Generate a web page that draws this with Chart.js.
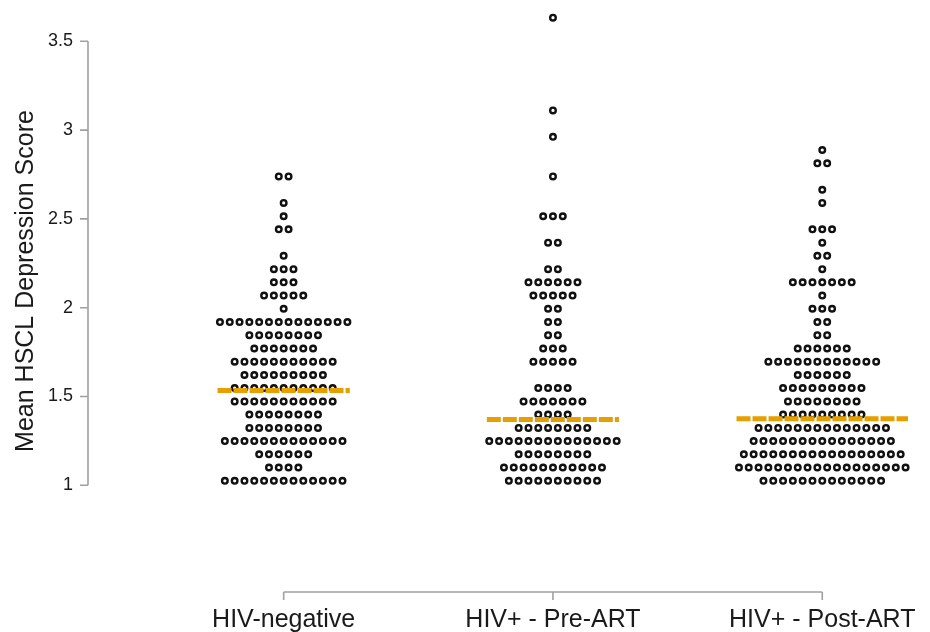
<!DOCTYPE html>
<html>
<head>
<meta charset="utf-8">
<title>HSCL depression score</title>
<script src="https://cdn.jsdelivr.net/npm/chart.js@4/dist/chart.umd.min.js"></script>
<style>
    html, body { margin: 0; padding: 0; background: #fff; }
    #wrap { width: 930px; height: 632px; }
</style>
</head>
<body>
<div id="wrap"><canvas id="dot-chart" width="930" height="632"></canvas></div>
<script>
// score levels the dots are stacked on
let levels = [1.025, 1.100, 1.174, 1.249, 1.323, 1.398, 1.472, 1.547, 1.621, 1.696,
    1.770, 1.845, 1.919, 1.994, 2.068, 2.143, 2.217, 2.292, 2.366, 2.441,
    2.515, 2.590, 2.664, 2.739, 2.813, 2.888, 2.962, 3.037, 3.111, 3.186,
    3.260, 3.335, 3.409, 3.484, 3.558, 3.633];

let groups = ['HIV-negative', 'HIV+ - Pre-ART', 'HIV+ - Post-ART'];

// number of participants at each level, per group
let negCounts = [13, 4, 6, 13, 8, 8, 11, 11, 9, 11, 7, 8, 14, 1, 5, 3, 3, 1, 0, 2,
    1, 1, 0, 2, 0, 0, 0, 0, 0, 0, 0, 0, 0, 0, 0, 0];
let preCounts = [10, 11, 8, 14, 8, 4, 7, 4, 0, 5, 3, 2, 2, 2, 5, 6, 2, 0, 2, 0,
    3, 0, 0, 1, 0, 0, 1, 0, 1, 0, 0, 0, 0, 0, 0, 1];
let postCounts = [13, 18, 17, 15, 14, 9, 8, 9, 6, 12, 6, 2, 2, 3, 1, 7, 1, 2, 1, 3,
    0, 1, 1, 0, 2, 1, 0, 0, 0, 0, 0, 0, 0, 0, 0, 0];

let medians = [1.534, 1.371, 1.375];

let yTicks = [1, 1.5, 2, 2.5, 3, 3.5];

let dotStep = 0.0364;   // horizontal gap between neighbouring dots (x units)
let axisColor = '#a0a0a0';
let textColor = '#1a1a1a';
let fontFamily = '"Liberation Sans", Arial, sans-serif';

function buildDots(counts, g) {
    let pts = [];
    counts.forEach((n, k) => {
        for (let j = 0; j < n; j++) {
            pts.push({ x: g + (j - (n - 1) / 2) * dotStep, y: levels[k] });
        }
    });
    return pts;
}

function medianLine(counts, g) {
    let widest = Math.max(...counts);
    let half = (widest - 1) / 2 * dotStep + 0.009;
    return [{ x: g - half, y: medians[g] }, { x: g + half, y: medians[g] }];
}

let allCounts = [negCounts, preCounts, postCounts];
let datasets = [];

allCounts.forEach((counts, g) => {
    datasets.push({
        type: 'line',
        data: medianLine(counts, g),
        borderColor: '#E69F00',
        borderWidth: 5,
        borderDash: [14, 2],
        pointRadius: 0,
        order: 0
    });
    datasets.push({
        type: 'scatter',
        data: buildDots(counts, g),
        pointStyle: 'circle',
        pointRadius: 2.8,
        borderWidth: 2.4,
        borderColor: '#111',
        backgroundColor: '#fff',
        order: 1
    });
});

// axis lines only span the ticks, like base R plots
let axesPlugin = {
    id: 'axes',
    beforeDatasetsDraw(chart) {
        let ctx = chart.ctx;
        let xs = chart.scales.x;
        let ys = chart.scales.y;
        let area = chart.chartArea;
        ctx.save();
        ctx.strokeStyle = axisColor;
        ctx.lineWidth = 1.6;

        let x0 = area.left;
        ctx.beginPath();
        ctx.moveTo(x0, ys.getPixelForValue(yTicks[0]));
        ctx.lineTo(x0, ys.getPixelForValue(yTicks[yTicks.length - 1]));
        yTicks.forEach(v => {
            let py = ys.getPixelForValue(v);
            ctx.moveTo(x0 - 8, py);
            ctx.lineTo(x0, py);
        });
        ctx.stroke();

        let y0 = area.bottom;
        ctx.beginPath();
        ctx.moveTo(xs.getPixelForValue(0), y0);
        ctx.lineTo(xs.getPixelForValue(groups.length - 1), y0);
        groups.forEach((name, i) => {
            let px = xs.getPixelForValue(i);
            ctx.moveTo(px, y0);
            ctx.lineTo(px, y0 + 8);
        });
        ctx.stroke();

        ctx.translate(26, 281);
        ctx.rotate(-Math.PI / 2);
        ctx.fillStyle = textColor;
        ctx.font = '25px ' + fontFamily;
        ctx.textAlign = 'center';
        ctx.textBaseline = 'middle';
        ctx.fillText('Mean HSCL Depression Score', 0, 0);
        ctx.restore();
    }
};

let ctx = document.getElementById('dot-chart').getContext('2d');
let dotChart = new Chart(ctx, {
    data: { datasets: datasets },
    options: {
        responsive: false,
        animation: false,
        layout: { padding: { top: 5, right: 5, left: 0, bottom: 0 } },
        plugins: {
            legend: { display: false },
            tooltip: { enabled: false }
        },
        elements: { line: { tension: 0 } },
        scales: {
            x: {
                type: 'linear',
                min: -0.7266,
                max: 2.3763,
                grid: { display: false, drawTicks: false },
                border: { display: false },
                afterBuildTicks: scale => {
                    scale.ticks = groups.map((g, i) => ({ value: i }));
                },
                afterFit: scale => {
                    scale.height = 40;
                    scale.paddingLeft = 0;
                    scale.paddingRight = 0;
                },
                ticks: {
                    padding: 13,
                    maxRotation: 0,
                    autoSkip: false,
                    color: textColor,
                    font: { family: fontFamily, size: 25 },
                    callback: v => groups[v]
                }
            },
            y: {
                type: 'linear',
                min: 0.3989,
                max: 3.6966,
                grid: { display: false, drawTicks: false },
                border: { display: false },
                afterBuildTicks: scale => {
                    scale.ticks = yTicks.map(v => ({ value: v }));
                },
                afterFit: scale => {
                    scale.width = 88;
                    scale.paddingTop = 0;
                    scale.paddingBottom = 0;
                },
                ticks: {
                    padding: 15,
                    color: textColor,
                    font: { family: fontFamily, size: 18 },
                    callback: v => String(v)
                }
            }
        }
    },
    plugins: [axesPlugin]
});
</script>
</body>
</html>
